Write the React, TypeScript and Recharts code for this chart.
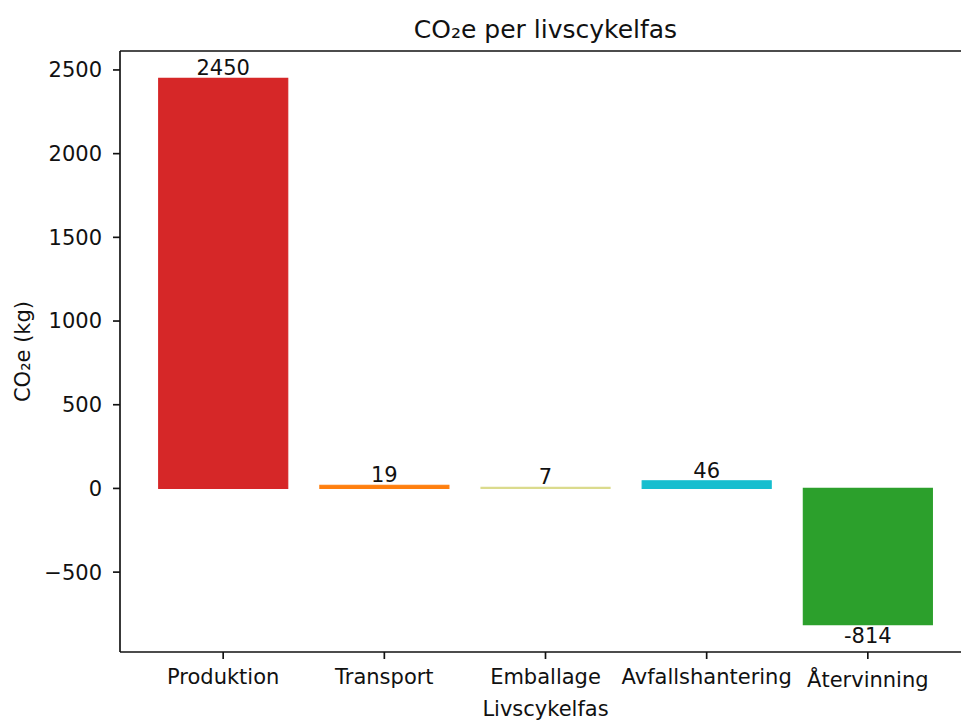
import React from 'react';
import { BarChart, Bar, XAxis, YAxis, Cell, LabelList, ReferenceLine } from 'recharts';

const phases = ['Produktion', 'Transport', 'Emballage', 'Avfallshantering', 'Återvinning'];
const co2Values = [2450, 19, 7, 46, -814];
const barColors = ['#d62728', '#ff7f0e', '#dbdb8d', '#17becf', '#2ca02c'];
const yTicks = [-500, 0, 500, 1000, 1500, 2000, 2500];

const data = phases.map((name, i) => ({ name, value: co2Values[i] }));

// matplotlib-style 5% margins around the data range
const lo = Math.min(0, ...co2Values);
const hi = Math.max(0, ...co2Values);
const pad = (hi - lo) * 0.05;
const yDomain: [number, number] = [lo - pad, hi + pad];

const FONT = 'DejaVu Sans';
const LINE_W = 1.67;

const formatTick = (v: number) => String(v).replace('-', '\u2212');

const CategoryTick = (props: any) => {
  const { x, y, payload } = props;
  // glyphs with a ring/accent push matplotlib's top-aligned label down a bit
  const extra = /^[ÅÄÖ]/.test(payload.value) ? 3 : 0;
  return (
    <text x={x} y={y + extra} dy="0.71em" textAnchor="middle" fontSize={21} fill="#111" fontFamily={FONT}>
      {payload.value}
    </text>
  );
};

export default function App() {
  return (
    <div
      style={{
        position: 'fixed',
        left: 0,
        top: 0,
        width: 961,
        height: 720,
        overflow: 'hidden',
        background: '#fff',
        fontFamily: FONT,
      }}
    >
      <BarChart
        width={1000}
        height={720}
        data={data}
        margin={{ top: 51, right: 29, left: 0, bottom: 0 }}
        barCategoryGap="10%"
      >
        <text x={545.5} y={38} textAnchor="middle" fontSize={25} fill="#111" fontFamily={FONT}>
          CO₂e per livscykelfas
        </text>
        <text
          x={30}
          y={351.5}
          transform="rotate(-90, 30, 351.5)"
          textAnchor="middle"
          fontSize={21}
          fill="#111"
          fontFamily={FONT}
        >
          CO₂e (kg)
        </text>
        <text x={545.5} y={716} textAnchor="middle" fontSize={21} fill="#111" fontFamily={FONT}>
          Livscykelfas
        </text>
        <XAxis
          dataKey="name"
          height={68}
          padding={{ left: 22.6, right: 22.6 }}
          interval={0}
          axisLine={{ stroke: '#111', strokeWidth: LINE_W }}
          tickLine={{ stroke: '#111', strokeWidth: LINE_W }}
          tickSize={7}
          tickMargin={10}
          tick={<CategoryTick />}
        />
        <YAxis
          width={120}
          type="number"
          domain={yDomain}
          ticks={yTicks}
          allowDataOverflow
          tickFormatter={formatTick}
          axisLine={{ stroke: '#111', strokeWidth: LINE_W }}
          tickLine={{ stroke: '#111', strokeWidth: LINE_W }}
          tickSize={7}
          tickMargin={11}
          tick={{ fontSize: 21, fill: '#111', fontFamily: FONT }}
        />
        <ReferenceLine y={yDomain[1]} stroke="#111" strokeWidth={LINE_W} />
        <Bar dataKey="value" isAnimationActive={false}>
          {data.map((d, i) => (
            <Cell key={d.name} fill={barColors[i]} stroke={barColors[i]} strokeWidth={1.2} />
          ))}
          <LabelList dataKey="value" position="top" offset={3} fontSize={21} fill="#111" fontFamily={FONT} />
        </Bar>
      </BarChart>
    </div>
  );
}
